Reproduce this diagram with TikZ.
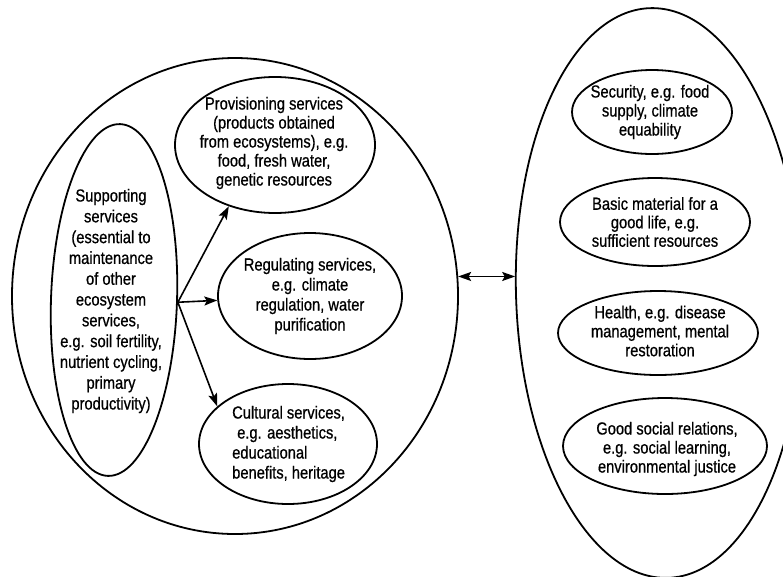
\documentclass[tikz,border=0pt]{standalone}
\usepackage{fontspec}
\setmainfont[FakeStretch=0.84,FakeBold=0.7]{Liberation Sans}
\usetikzlibrary{shapes.geometric,arrows.meta}
\begin{document}
\begin{tikzpicture}[x=1pt,y=-1pt,
  >={Stealth[length=13pt,width=9pt,inset=2.5pt]},
  outline/.style={draw, ellipse, line width=1.8pt, inner sep=0pt},
  txt/.style={align=center, inner sep=0pt},
  link/.style={->, line width=1.6pt}]
\useasboundingbox (0,0) rectangle (783,576);
\clip (0,0) rectangle (783,576);

% ecosystem services
\node[outline, minimum width=446pt, minimum height=476pt] (eco) at (235,296) {};
\node[outline, rotate=-2, minimum width=126pt, minimum height=352pt] (sup) at (114,300) {};
\node[outline, minimum width=200pt, minimum height=136pt] (prov) at (275,145) {};
\node[outline, minimum width=184pt, minimum height=126pt] (reg) at (310,296) {};
\node[outline, minimum width=178pt, minimum height=120pt] (cult) at (288,444) {};

\node[txt, font=\fontsize{17.5}{20.8}\selectfont] (supT) at (111,301)
  {Supporting\\services\\(essential to\\maintenance\\of other\\ecosystem\\services,\\e.g. soil fertility,\\nutrient cycling,\\primary\\productivity)};
\node[txt, font=\fontsize{17.5}{19}\selectfont] (provT) at (274,143)
  {Provisioning services\\(products obtained\\from ecosystems), e.g.\\food, fresh water,\\genetic resources};
\node[txt, font=\fontsize{17.5}{20}\selectfont] (regT) at (310,296)
  {Regulating services,\\e.g. climate\\regulation, water\\purification};
\node[txt, align=left, anchor=west, font=\fontsize{17.5}{20}\selectfont] (cultT) at (232,444)
  {Cultural services,\\\hspace*{5pt}e.g. aesthetics,\\educational\\benefits, heritage};

% human well-being
\node[outline, rotate=1.8, minimum width=286pt, minimum height=570pt] (wb) at (659,293) {};
\node[outline, minimum width=160pt, minimum height=84pt] (sec) at (652,112) {};
\node[outline, minimum width=190pt, minimum height=88pt] (mat) at (655,222) {};
\node[outline, minimum width=200pt, minimum height=84pt] (hea) at (658,333) {};
\node[outline, minimum width=204pt, minimum height=96pt] (soc) at (665,446) {};

\node[txt, font=\fontsize{17.5}{19}\selectfont] (secT) at (650,112)
  {Security, e.g. food\\supply, climate\\equability};
\node[txt, font=\fontsize{17.5}{18.5}\selectfont] (matT) at (655,222)
  {Basic material for a\\good life, e.g.\\sufficient resources};
\node[txt, font=\fontsize{17.5}{19}\selectfont] (heaT) at (660,331)
  {Health, e.g. disease\\management, mental\\restoration};
\node[txt, font=\fontsize{17.5}{19}\selectfont] (socT) at (667,449)
  {Good social relations,\\e.g. social learning,\\environmental justice};

% connectors
\draw[link] (sup.east) -- (prov.233);
\draw[link] (sup.east) -- (reg);
\draw[link] (sup.east) -- (cult.152);
\draw[link, <->] (eco.5) -- (eco.5 -| wb.west);
\end{tikzpicture}
\end{document}
